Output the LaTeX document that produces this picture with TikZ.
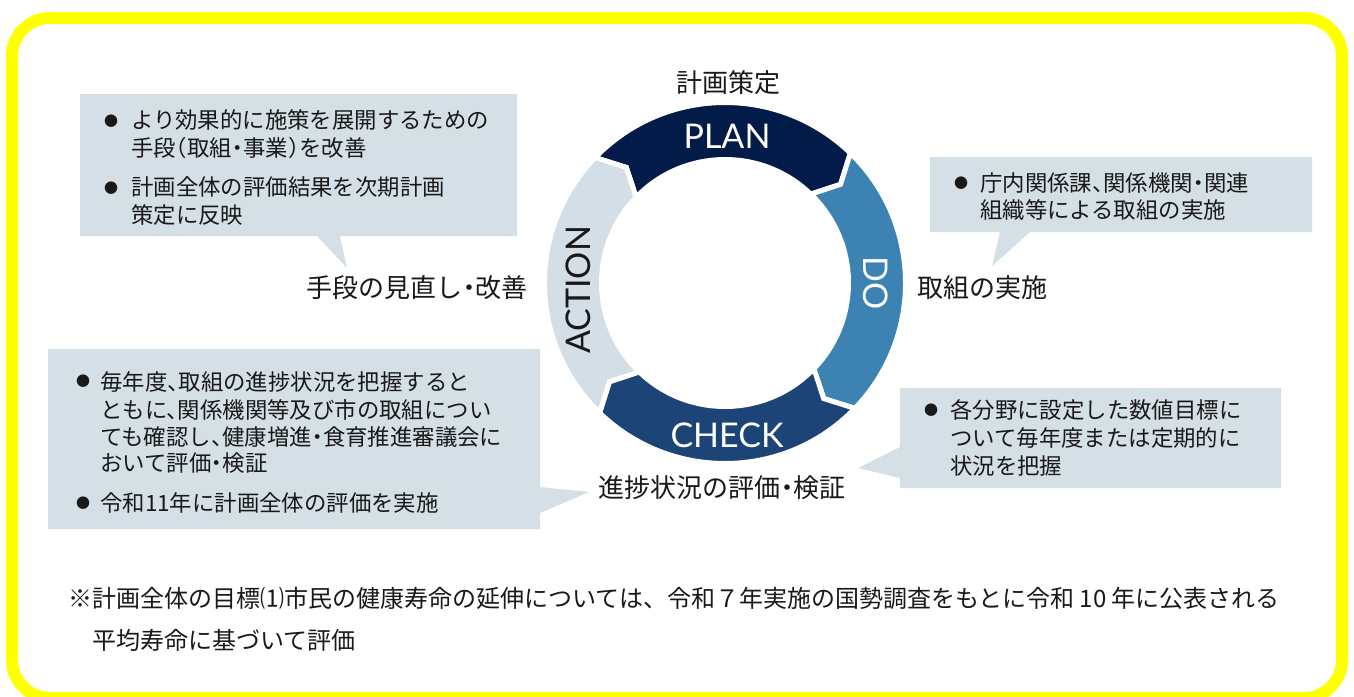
\documentclass[tikz,border=0pt]{standalone}
\usepackage{fontspec}
\setmainfont{Noto Sans CJK JP}
\newfontfamily\jph[RawFeature=+halt]{Noto Sans CJK JP}
\newfontfamily\latinfont{Lato}
\definecolor{planc}{RGB}{3,27,72}
\definecolor{doc}{RGB}{60,131,180}
\definecolor{checkc}{RGB}{29,68,118}
\definecolor{actc}{RGB}{211,222,230}
\definecolor{boxc}{RGB}{213,223,230}
\definecolor{framec}{RGB}{255,255,0}
\definecolor{txt}{RGB}{25,25,25}
\newcommand{\fsz}[1]{\fontsize{#1}{#1}\selectfont}
\newcommand{\ringseg}[2]{%
  \pgfmathsetmacro{\rsE}{#2-90}%
  \pgfmathsetmacro{\rsN}{#2-5.5}%
  \pgfmathsetmacro{\rsT}{#2-95.5}%
  \filldraw[fill=#1, draw=white, line width=5pt, line join=miter]
    (#2:180.5) arc[start angle=#2, end angle=\rsE, radius=180.5]
    -- (\rsT:152) -- (\rsE:123.5)
    arc[start angle=\rsE, end angle=#2, radius=123.5]
    -- (\rsN:152) -- cycle;}
\begin{document}
\begin{tikzpicture}[x=1pt,y=-1pt,
  ringlbl/.style={text=white, font=\latinfont\fsz{34}, inner sep=0pt},
  lbl/.style={text=txt, font=\jph\fsz{26}, inner sep=0pt},
  ln/.style={text=txt, font=\jph\fsz{22.4}, inner sep=0pt, anchor=base west},
  bul/.style={text=txt, font=\fsz{14}, inner sep=0pt, anchor=center},
  callout/.style={fill=boxc},
  note/.style={text=txt, font=\fsz{24}, inner sep=0pt, anchor=base west}]
\useasboundingbox (0,0) rectangle (1354,696);
\fill[white] (0,0) rectangle (1354,696);
% frame
\draw[framec, line width=12pt, rounded corners=38pt] (12,18) rectangle (1342,698);

% ring
\begin{scope}[shift={(725,283)}, y=1pt]
  \ringseg{planc}{136}
  \ringseg{doc}{46}
  \ringseg{checkc}{-44}
  \ringseg{actc}{-134}
\end{scope}
\node[ringlbl] (plan) at (727,136) {PLAN};
\node[ringlbl, rotate=-90] (do) at (876,283) {DO};
\node[ringlbl] (check) at (727,435) {CHECK};
\node[ringlbl, rotate=90, text=txt] (action) at (578,290) {ACTION};

% stage labels
\node[lbl] (lplan) at (728,83) {計画策定};
\node[lbl, anchor=west] (ldo) at (917,288) {取組の実施};
\node[lbl, anchor=east] (lact) at (528,288) {手段の見直し・改善};
\node[lbl] (lcheck) at (722,488) {進捗状況の評価・検証};

% callouts
\fill[callout] (80,94) -- (517,94) -- (517,236) -- (340,236) -- (347,268) -- (317,236) -- (80,236) -- cycle;
\fill[callout] (930,157) -- (1312,157) -- (1312,232) -- (1030,232) -- (992,266) -- (1000,232) -- (930,232) -- cycle;
\fill[callout] (900,388) -- (1281,388) -- (1281,488) -- (900,488) -- (900,478) -- (858,468) -- (900,447) -- cycle;
\fill[callout] (48,349) -- (540,349) -- (540,487) -- (589,492) -- (540,513) -- (540,529) -- (48,529) -- cycle;

% box 1 (ACTION)
\node[bul] (a1b) at (111,121) {●};
\node[ln] (a1l1) at (131,128) {より効果的に施策を展開するための};
\node[ln] (a1l2) at (131,156) {手段（取組・事業）を改善};
\node[bul] (a2b) at (111,188) {●};
\node[ln] (a2l1) at (131,195) {計画全体の評価結果を次期計画};
\node[ln] (a2l2) at (131,223) {策定に反映};

% box 2 (DO)
\node[bul] (d1b) at (961,183) {●};
\node[ln] (d1l1) at (980,191) {庁内関係課、関係機関・関連};
\node[ln] (d1l2) at (980,218) {組織等による取組の実施};

% box 3 (CHECK right)
\node[bul] (c1b) at (931,410) {●};
\node[ln] (c1l1) at (950,418) {各分野に設定した数値目標に};
\node[ln] (c1l2) at (950,446) {ついて毎年度または定期的に};
\node[ln] (c1l3) at (950,474) {状況を把握};

% box 4 (CHECK left)
\node[bul] (k1b) at (83,381) {●};
\node[ln] (k1l1) at (100,390) {毎年度、取組の進捗状況を把握すると};
\node[ln] (k1l2) at (100,418) {ともに、関係機関等及び市の取組につい};
\node[ln] (k1l3) at (100,445) {ても確認し、健康増進・食育推進審議会に};
\node[ln] (k1l4) at (100,471) {おいて評価・検証};
\node[bul] (k2b) at (83,503) {●};
\node[ln] (k2l1) at (100,511) {令和11年に計画全体の評価を実施};

% note
\node[note] (n1) at (68,607) {※計画全体の目標⑴市民の健康寿命の延伸については、令和７年実施の国勢調査をもとに令和 10 年に公表される};
\node[note] (n2) at (92,649) {平均寿命に基づいて評価};
\end{tikzpicture}
\end{document}
